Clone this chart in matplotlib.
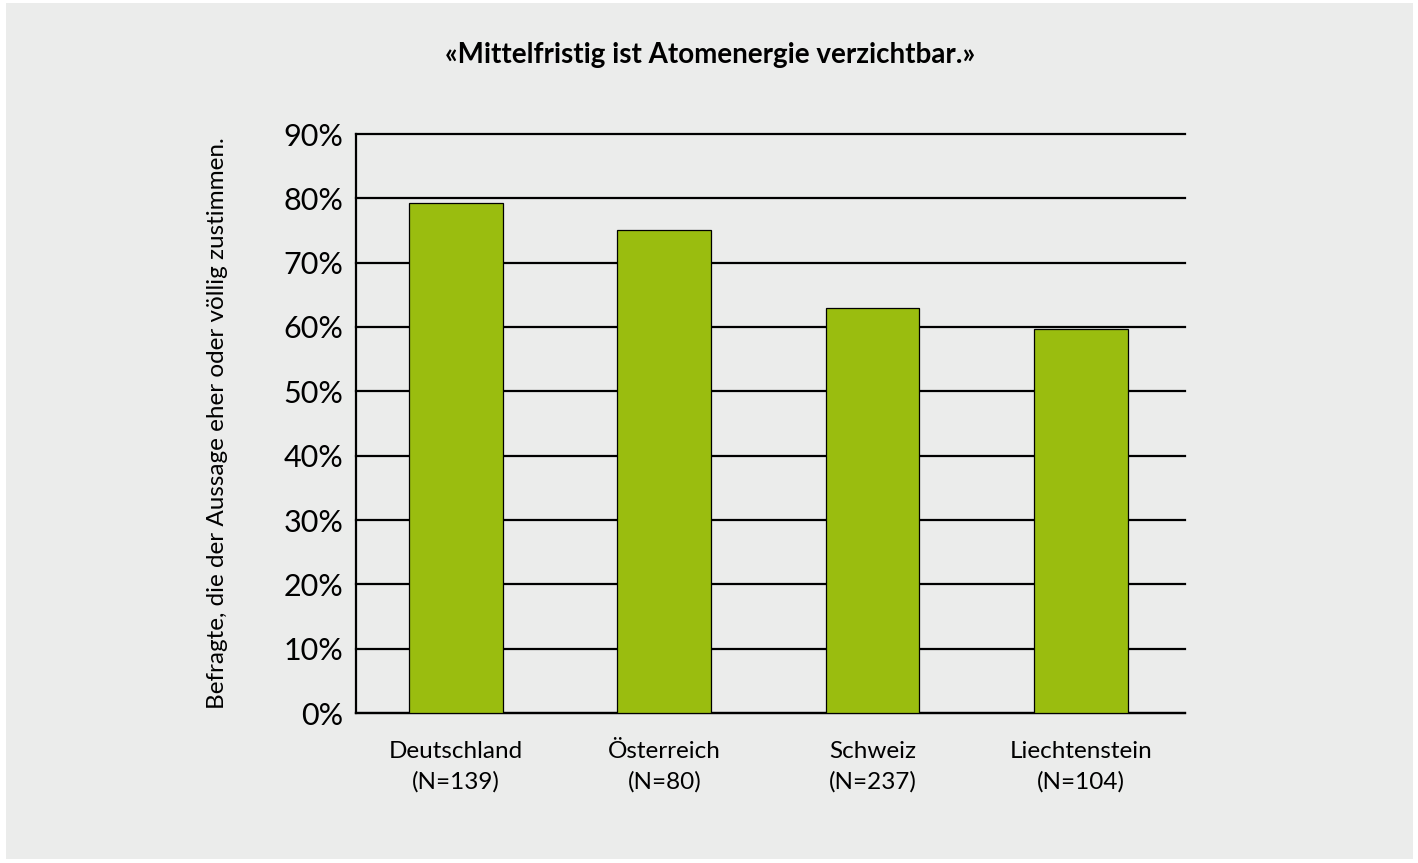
import matplotlib.pyplot as plt
from matplotlib.ticker import FuncFormatter

plt.rcParams['font.family'] = ['Lato', 'DejaVu Sans']

# Daten
laender = ['Deutschland', 'Österreich', 'Schweiz', 'Liechtenstein']
n_werte = [139, 80, 237, 104]
zustimmung = [79.2, 75.0, 63.0, 59.7]
y_ticks = [0, 10, 20, 30, 40, 50, 60, 70, 80, 90]

bg = '#EBECEB'
bar_color = '#9ABD0F'

fig = plt.figure(figsize=(14.18, 8.63), dpi=100)
fig.patch.set_facecolor('white')
# grauer Hintergrund mit schmalem weissen Rand
fig.patches.append(plt.Rectangle((6 / 1418, 4 / 863), 1407 / 1418, 856 / 863,
                                 transform=fig.transFigure, facecolor=bg,
                                 edgecolor='none', zorder=-10))

ax = fig.add_axes([356 / 1418, (863 - 713) / 863, (1185 - 356) / 1418, (713 - 134) / 863])
ax.set_facecolor(bg)

x = range(len(laender))
ax.bar(x, zustimmung, width=0.45, color=bar_color, edgecolor='black',
       linewidth=0.9, zorder=3)

ax.set_ylim(0, 90)
ax.set_xlim(-0.48, 3.5)
ax.set_yticks(y_ticks)
ax.yaxis.set_major_formatter(FuncFormatter(lambda v, p: f'{v:.0f}%'))
ax.grid(axis='y', color='black', linewidth=1.6, zorder=1)
ax.set_axisbelow(True)
for gl in ax.get_ygridlines():
    gl.set_clip_on(False)

ax.set_xticks(list(x))
ax.set_xticklabels([f'{l}\n(N={n})' for l, n in zip(laender, n_werte)],
                   fontsize=17.5, linespacing=1.55)
ax.tick_params(axis='x', length=0, pad=20)
ax.tick_params(axis='y', length=0, pad=9, labelsize=22)

for s in ['top', 'right']:
    ax.spines[s].set_visible(False)
ax.spines['left'].set_linewidth(1.6)
ax.spines['bottom'].set_linewidth(1.6)

ax.set_ylabel('Befragte, die der Aussage eher oder völlig zustimmen.',
              fontsize=17.5, labelpad=40)

fig.text(710 / 1418, 1 - 55 / 863, '«Mittelfristig ist Atomenergie verzichtbar.»',
         ha='center', va='center', fontsize=20, fontweight='bold')

fig.savefig('out.png', dpi=100, facecolor=fig.get_facecolor())
